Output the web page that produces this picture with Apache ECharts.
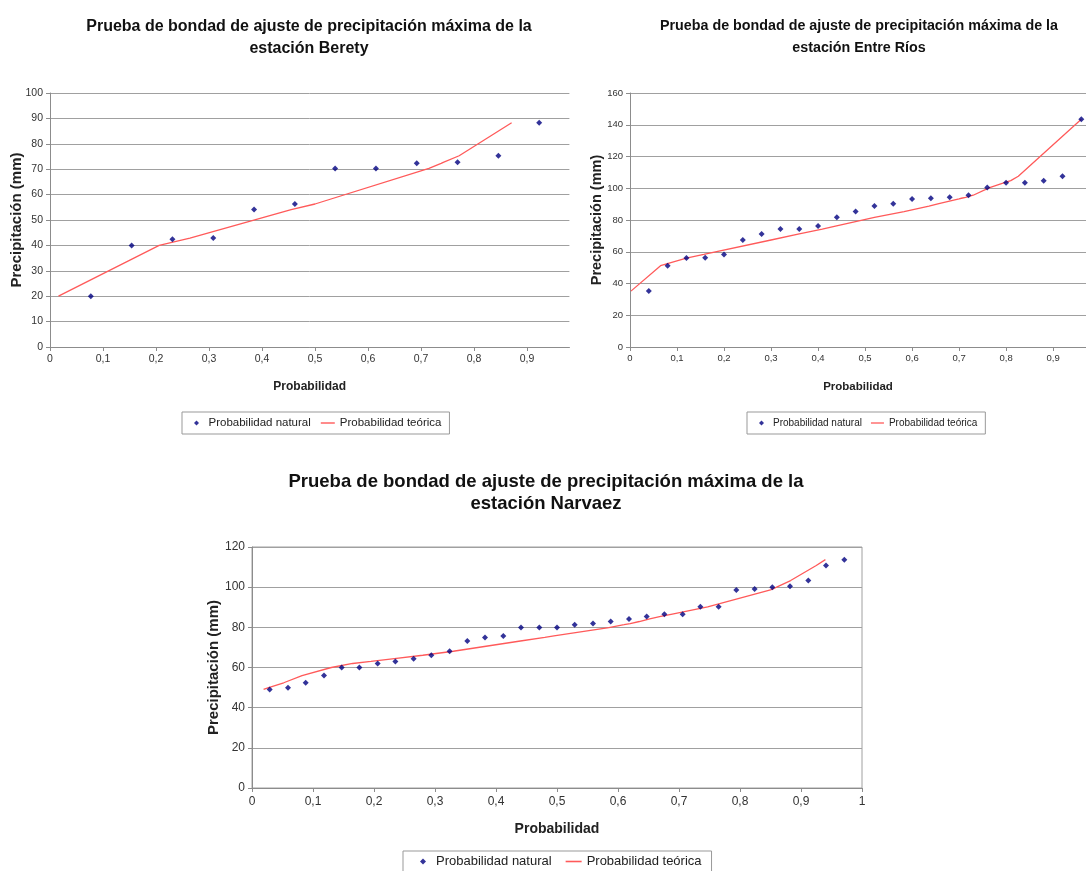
<!DOCTYPE html>
<html><head><meta charset="utf-8">
<script src="https://cdn.jsdelivr.net/npm/echarts@6/dist/echarts.min.js"></script>
<style>html,body{margin:0;padding:0;background:#fff}#c{width:1086px;height:871px}</style>
</head><body><div id="c"></div>
<script>
// ---- Estación Berety ----
const bereProb = [0.077, 0.154, 0.231, 0.308, 0.385, 0.462, 0.538, 0.615, 0.692, 0.769, 0.846, 0.923];
const bereObs  = [20.0, 40.0, 42.4, 42.9, 54.1, 56.3, 70.3, 70.3, 72.3, 72.7, 75.3, 88.3];
const bereTeo  = [0.016, 0.206, 0.254, 0.264, 0.455, 0.500, 0.715, 0.715, 0.738, 0.742, 0.772, 0.871];

// ---- Estación Entre Ríos ----
const erProb = [0.04, 0.08, 0.12, 0.16, 0.20, 0.24, 0.28, 0.32, 0.36, 0.40, 0.44, 0.48, 0.52, 0.56, 0.60, 0.64, 0.68, 0.72, 0.76, 0.80, 0.84, 0.88, 0.92, 0.96];
const erObs  = [35.2, 51.2, 56.0, 56.2, 58.3, 67.4, 71.2, 74.3, 74.3, 76.2, 81.7, 85.3, 88.8, 90.3, 93.3, 93.7, 94.3, 95.6, 100.4, 103.4, 103.4, 104.8, 107.6, 143.4];
const erTeo  = [0.002, 0.065, 0.120, 0.122, 0.157, 0.300, 0.360, 0.409, 0.409, 0.437, 0.520, 0.583, 0.636, 0.657, 0.700, 0.705, 0.714, 0.730, 0.765, 0.795, 0.795, 0.810, 0.826, 0.960];

// ---- Estación Narvaez ----
const nvProb = [0.029, 0.059, 0.088, 0.118, 0.147, 0.176, 0.206, 0.235, 0.265, 0.294, 0.324, 0.353, 0.382, 0.412, 0.441, 0.471, 0.500, 0.529, 0.559, 0.588, 0.618, 0.647, 0.676, 0.706, 0.735, 0.765, 0.794, 0.824, 0.853, 0.882, 0.912, 0.941, 0.971];
const nvObs  = [49.1, 49.9, 52.4, 56.0, 60.0, 60.0, 62.0, 63.0, 64.3, 66.1, 68.1, 73.2, 75.0, 75.7, 79.9, 79.9, 79.9, 81.3, 81.9, 82.9, 84.2, 85.4, 86.5, 86.5, 90.2, 90.3, 98.6, 99.1, 100.0, 100.4, 103.3, 110.8, 113.7];
const nvTeo  = [0.019, 0.026, 0.052, 0.082, 0.130, 0.130, 0.165, 0.195, 0.230, 0.280, 0.330, 0.440, 0.480, 0.495, 0.585, 0.585, 0.585, 0.610, 0.620, 0.635, 0.652, 0.670, 0.687, 0.687, 0.747, 0.749, 0.850, 0.854, 0.860, 0.862, 0.883, 0.925, 0.940];

// ---- Tick labels ----
const xTicks09 = [0, 0.1, 0.2, 0.3, 0.4, 0.5, 0.6, 0.7, 0.8, 0.9];
const xTicks10 = [0, 0.1, 0.2, 0.3, 0.4, 0.5, 0.6, 0.7, 0.8, 0.9, 1];

const titles = [
  'Prueba de bondad de ajuste de precipitación máxima de la\nestación Berety',
  'Prueba de bondad de ajuste de precipitación máxima de la\nestación Entre Ríos',
  'Prueba de bondad de ajuste de precipitación máxima de la\nestación Narvaez'
];
const nameNat = 'Probabilidad natural';
const nameTeo = 'Probabilidad teórica';

const FONT = '"Liberation Sans", Arial, sans-serif';
const GRID_C = '#a0a0a0';
const AXIS_C = '#8c8c8c';
const TXT_C = '#333';
const LINE_C = '#ff5a5a';
const DIAMOND = 'path://M5,0 L10,5 L5,10 L0,5 Z';
const DASH = 'path://M0,0 L20,0 L20,2 L0,2 Z';

function pairs(xs, ys) { return xs.map((x, i) => [x, ys[i]]); }
function fmt(v) {
  const r = Math.round(v * 10) / 10;
  if (Math.abs(r - v) > 1e-6) return '';
  return String(r).replace('.', ',');
}

function xAxis(idx, max, ticks, fs, nameFs, nameGap, margin) {
  return {
    type: 'value', gridIndex: idx, min: 0, max: max, interval: 0.1,
    name: 'Probabilidad', nameLocation: 'middle', nameGap: nameGap, nameMoveOverlap: false,
    nameTextStyle: { fontFamily: FONT, fontWeight: 'bold', fontSize: nameFs, color: '#222' },
    axisLine: { show: true, lineStyle: { color: AXIS_C, width: 1 } },
    axisTick: { show: true, length: 4, lineStyle: { color: AXIS_C }, customValues: ticks },
    axisLabel: { fontFamily: FONT, fontSize: fs, color: TXT_C, margin: margin, formatter: fmt, customValues: ticks, showMaxLabel: true, showMinLabel: true },
    splitLine: { show: false }
  };
}
function yAxis(idx, max, interval, fs, nameFs, nameGap) {
  return {
    type: 'value', gridIndex: idx, min: 0, max: max, interval: interval,
    name: 'Precipitación (mm)', nameLocation: 'middle', nameGap: nameGap, nameMoveOverlap: false,
    nameTextStyle: { fontFamily: FONT, fontWeight: 'bold', fontSize: nameFs, color: '#222' },
    axisLine: { show: true, lineStyle: { color: AXIS_C, width: 1 } },
    axisTick: { show: true, length: 4, lineStyle: { color: AXIS_C } },
    axisLabel: { fontFamily: FONT, fontSize: fs, color: TXT_C, margin: 7 },
    splitLine: { show: true, lineStyle: { color: GRID_C, width: 1 } }
  };
}
function legend(left, top, fs, padding, gap, iw, ih) {
  return {
    left: left, top: top, orient: 'horizontal', selectedMode: false,
    padding: padding, itemGap: gap, itemWidth: iw, itemHeight: ih,
    symbolKeepAspect: true,
    borderColor: '#999', borderWidth: 1, borderRadius: 0,
    textStyle: { fontFamily: FONT, fontSize: fs, color: '#222' },
    data: [{ name: nameNat, icon: DIAMOND }, { name: nameTeo, icon: DASH, itemStyle: { color: LINE_C } }]
  };
}
function seriesPair(idx, prob, obs, teo, sym) {
  return [
    { name: nameTeo, type: 'line', xAxisIndex: idx, yAxisIndex: idx, symbol: 'none', showSymbol: false,
      data: pairs(teo, obs), lineStyle: { color: LINE_C, width: 1.3 }, itemStyle: { color: LINE_C },
      z: 2, silent: true, animation: false },
    { name: nameNat, type: 'scatter', xAxisIndex: idx, yAxisIndex: idx, symbol: 'diamond', symbolSize: sym,
      data: pairs(prob, obs), itemStyle: { color: '#000080' }, z: 3, silent: true, animation: false }
  ];
}

const chart = echarts.init(document.getElementById('c'), null, { renderer: 'canvas' });
chart.setOption({
  backgroundColor: '#fff',
  animation: false,
  title: [
    { text: titles[0], left: 304, top: 10.5, textAlign: 'center',
      textStyle: { fontFamily: FONT, fontWeight: 'bold', fontSize: 16, lineHeight: 22.3, color: '#111' } },
    { text: titles[1], left: 854, top: 9.7, textAlign: 'center',
      textStyle: { fontFamily: FONT, fontWeight: 'bold', fontSize: 14.3, lineHeight: 22, color: '#111' } },
    { text: titles[2], left: 541, top: 465.5, textAlign: 'center',
      textStyle: { fontFamily: FONT, fontWeight: 'bold', fontSize: 18.5, lineHeight: 22.3, color: '#111' } }
  ],
  grid: [
    { left: 50, top: 93, width: 519.4, height: 254, containLabel: false },
    { left: 630, top: 93, width: 456, height: 254, containLabel: false },
    { left: 252, top: 547, width: 610, height: 241, containLabel: false,
      show: true, borderColor: '#a0a0a0', borderWidth: 1, backgroundColor: 'transparent' }
  ],
  xAxis: [
    xAxis(0, 0.98, xTicks09, 10.5, 12, 34, 6.5),
    xAxis(1, 0.97, xTicks09, 9.5, 11.5, 34, 6.5),
    xAxis(2, 1, xTicks10, 12, 14, 34, 8)
  ],
  yAxis: [
    yAxis(0, 100, 10, 10.5, 15, 26),
    yAxis(1, 160, 20, 9.5, 14.5, 26),
    yAxis(2, 120, 20, 12, 15, 31)
  ],
  legend: [
    legend(182, 412, 11.5, [5, 8, 5, 12], 10, 14, 5),
    legend(747, 412, 10, [6, 8, 6, 12], 9, 13, 5),
    legend(403, 851, 13, [4, 10, 4, 17], 14, 16, 6)
  ],
  series: [].concat(
    seriesPair(0, bereProb, bereObs, bereTeo, 6),
    seriesPair(1, erProb, erObs, erTeo, 6),
    seriesPair(2, nvProb, nvObs, nvTeo, 6)
  )
});
</script>
</body></html>
